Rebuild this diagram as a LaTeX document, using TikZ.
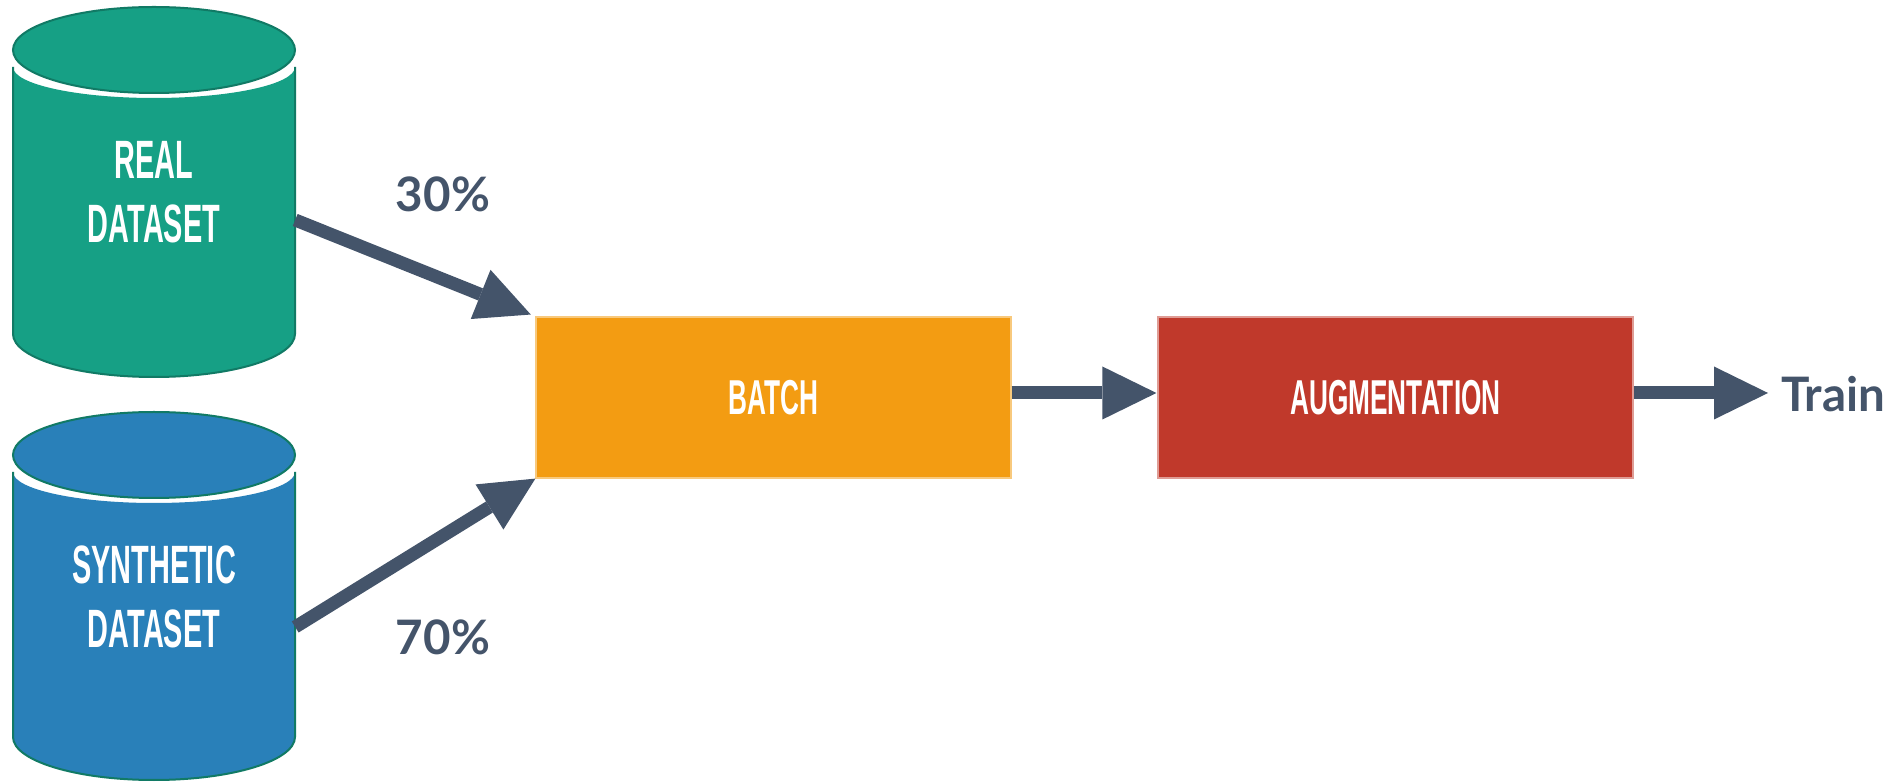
\documentclass[tikz,border=0pt]{standalone}
\usepackage{fontspec}
\usetikzlibrary{arrows.meta,calc}

\newfontfamily\headfont[FakeStretch=0.535]{Liberation Sans}
\newfontfamily\labelfont{Lato}

\definecolor{realfill}{HTML}{16A085}
\definecolor{synthfill}{HTML}{2980B9}
\definecolor{cylline}{HTML}{117A65}
\definecolor{batchfill}{HTML}{F39C12}
\definecolor{augfill}{HTML}{C0392B}
\definecolor{ink}{HTML}{44546A}

% database cylinder: centre x, top-ellipse centre y, bottom-ellipse centre y, fill colour
\newcommand\dbcylinder[4]{%
  \fill[#4] ({#1-141},{#2-17}) -- ({#1-141},#3)
    arc[start angle=180,end angle=360,x radius=141pt,y radius=43pt]
    -- ({#1+141},{#2-17})
    arc[start angle=0,end angle=-180,x radius=141pt,y radius=31pt] -- cycle;
  \draw[cylline,line width=2pt] ({#1-141},{#2-17}) -- ({#1-141},#3)
    arc[start angle=180,end angle=360,x radius=141pt,y radius=43pt]
    -- ({#1+141},{#2-17});
  \draw[cylline,line width=2pt,fill=#4] (#1,#2) ellipse[x radius=141pt,y radius=43pt];
}

\tikzset{
  heading/.style={font=\headfont\bfseries\fontsize{54}{64}\selectfont,
    text=white, align=center, inner sep=0pt, minimum width=282pt},
  stagebox/.style={minimum width=475pt, minimum height=161pt, inner sep=0pt,
    font=\headfont\bfseries\fontsize{49}{58}\selectfont, text=white, line width=1.2pt},
  flow/.style={draw=ink, line width=13pt,
    -{Triangle[length=54pt,width=53pt,line width=0pt]}},
  pct/.style={font=\labelfont\bfseries\fontsize{47.5}{57}\selectfont,
    text=ink, inner sep=0pt}
}

\begin{document}
\begin{tikzpicture}[x=1pt,y=1pt]
  \fill[white] (0,0) rectangle (1901,782);
  \useasboundingbox (0,0) rectangle (1901,782);

  % data sources
  \dbcylinder{154}{732}{448}{realfill}
  \dbcylinder{154}{327}{45}{synthfill}
  \node[heading] (real) at (154,590) {REAL\\DATASET};
  \node[heading] (synth) at (154,185.5) {SYNTHETIC\\DATASET};

  % pipeline stages
  \node[stagebox, fill=batchfill, draw=batchfill!55!white] (batch) at (773.5,384.5) {BATCH};
  \node[stagebox, fill=augfill, draw=augfill!50!white] (aug) at (1395.5,384.5) {AUGMENTATION};
  \node[pct, anchor=base west] (train) at (1781,370) {Train};

  % mixing ratios
  \node[pct, anchor=base] (p30) at (443,570) {30\%};
  \node[pct, anchor=base] (p70) at (443,127) {70\%};

  % connectors
  \draw[flow, shorten >=5pt] ($(real.east)+(0,-28)$) -- (batch.north west);
  \draw[flow] ($(synth.east)+(0,-30.5)$) -- (batch.south west);
  \draw[flow, shorten >=1pt] ([yshift=4.5pt]batch.east) -- ([yshift=4.5pt]aug.west);
  \draw[flow, shorten >=13pt] ([yshift=4.5pt]aug.east) -- ([yshift=4.5pt]aug.east -| train.west);
\end{tikzpicture}
\end{document}
